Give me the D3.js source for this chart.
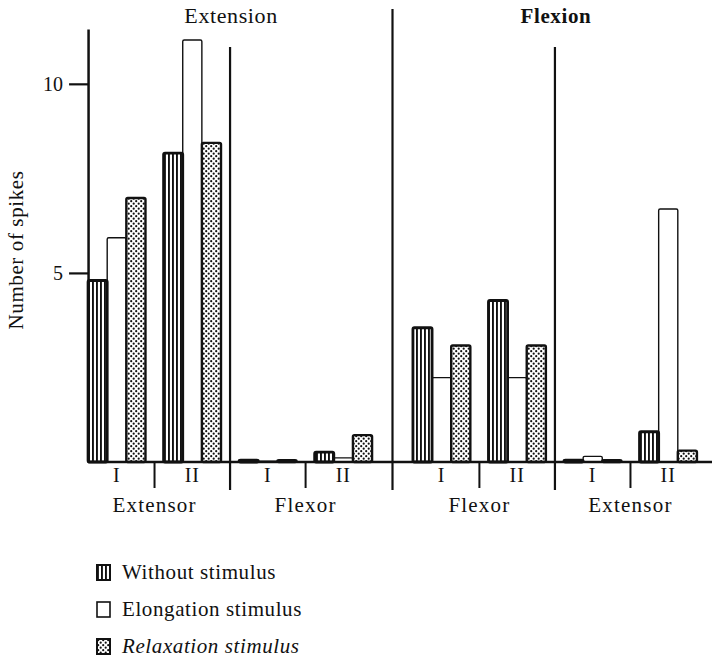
<!DOCTYPE html>
<html>
<head>
<meta charset="utf-8">
<script src="https://cdn.jsdelivr.net/npm/d3@7"></script>
<style>
  body { margin: 0; background: #fff; }
  text { font-family: "Liberation Serif", "DejaVu Serif", serif; fill: #111; }
</style>
</head>
<body>
<script>
// ** Data **
const panels = ["Extension", "Flexion"];
const panelMuscles = [["Extensor", "Flexor"], ["Flexor", "Extensor"]];
const units = ["I", "II"];
const series = ["Without stimulus", "Elongation stimulus", "Relaxation stimulus"];
// order: Extension-Extensor I, II, Extension-Flexor I, II, Flexion-Flexor I, II, Flexion-Extensor I, II
const withoutStim = [4.8, 8.17, 0.05, 0.26, 3.55, 4.27, 0.05, 0.8];
const elongation  = [5.93, 11.16, 0.02, 0.11, 2.23, 2.23, 0.15, 6.69];
const relaxation  = [6.98, 8.44, 0.05, 0.71, 3.08, 3.08, 0.05, 0.3];
const yTicks = [5, 10];

const width = 715, height = 661;
const svg = d3.select("body").append("svg")
    .attr("width", width)
    .attr("height", height);

// ** Patterns **
const defs = svg.append("defs");
const hatch = defs.append("pattern")
    .attr("id", "hatch")
    .attr("patternUnits", "userSpaceOnUse")
    .attr("width", 4).attr("height", 8);
hatch.append("rect").attr("width", 4).attr("height", 8).attr("fill", "#fff");
hatch.append("rect").attr("x", 0).attr("width", 1.9).attr("height", 8).attr("fill", "#111");

const dots = defs.append("pattern")
    .attr("id", "dots")
    .attr("patternUnits", "userSpaceOnUse")
    .attr("width", 5).attr("height", 5);
dots.append("rect").attr("width", 5).attr("height", 5).attr("fill", "#fff");
dots.append("circle").attr("cx", 1.2).attr("cy", 1.2).attr("r", 1.1).attr("fill", "#111");
dots.append("circle").attr("cx", 3.7).attr("cy", 3.7).attr("r", 1.1).attr("fill", "#111");

const fills = ["url(#hatch)", "#fff", "url(#dots)"];
const strokeW = [2.8, 1.4, 2.4];

// ** Scales **
const y = d3.scaleLinear().domain([0, 11.45]).range([462, 29]);
const xPanel = d3.scaleBand().domain(panels).range([79, 706]).paddingInner(0.07);
const xGroup = d3.scaleBand().domain(d3.range(4)).range([0, xPanel.bandwidth()]);
const barSpan = xGroup.bandwidth() * 0.76;
const xBar = d3.scaleBand().domain(series)
    .range([(xGroup.bandwidth() - barSpan) / 2, (xGroup.bandwidth() + barSpan) / 2]);

const groups = [];
panels.forEach((p, pi) => {
    panelMuscles[pi].forEach((m, mi) => {
        units.forEach((u, ui) => {
            const k = pi * 4 + mi * 2 + ui;
            groups.push({
                panel: p, muscle: m, unit: u, slot: mi * 2 + ui,
                values: [withoutStim[k], elongation[k], relaxation[k]]
            });
        });
    });
});

const bars = [];
groups.forEach(g => g.values.forEach((v, si) => bars.push({ g, si, v })));
const barX = d => xPanel(d.g.panel) + xGroup(d.g.slot) + xBar(series[d.si]);

const baseY = y(0);
const axisX = xPanel(panels[0]) + xGroup(0) + xBar(series[0]);
const rightX = xPanel.range()[1] + 6;

// ** Bars (open elongation bars first, patterned on top) **
const order = [1, 0, 2];
svg.append("g").selectAll("rect")
    .data(bars.slice().sort((a, b) => order.indexOf(a.si) - order.indexOf(b.si)))
    .join("rect")
    .attr("x", barX)
    .attr("y", d => y(d.v))
    .attr("width", xBar.bandwidth())
    .attr("height", d => baseY - y(d.v))
    .attr("fill", d => fills[d.si])
    .attr("stroke", "#111")
    .attr("stroke-width", d => strokeW[d.si])
    .attr("rx", 1.5);

// ** Baseline **
svg.append("line")
    .attr("x1", axisX).attr("x2", rightX)
    .attr("y1", baseY).attr("y2", baseY)
    .attr("stroke", "#111").attr("stroke-width", 2.5);

// ** Y axis **
const yAxis = svg.append("g")
    .attr("transform", `translate(${axisX},0)`)
    .call(d3.axisLeft(y).tickValues(yTicks).tickSize(19).tickSizeOuter(0).tickPadding(6));
yAxis.select(".domain").attr("stroke", "#111").attr("stroke-width", 2.5);
yAxis.selectAll(".tick line").attr("stroke", "#111").attr("stroke-width", 2.2);
yAxis.selectAll(".tick text")
    .style("font-family", "'Liberation Serif', serif")
    .style("font-size", "20px")
    .attr("fill", "#111");

svg.append("text")
    .attr("transform", `translate(23,250) rotate(-90)`)
    .attr("text-anchor", "middle")
    .style("font-size", "21px")
    .style("letter-spacing", "0.6px")
    .text("Number of spikes");

// ** Dividers **
const gap = xPanel.step() - xPanel.bandwidth();
const panelDivX = xPanel(panels[1]) - gap / 2;
svg.append("line")
    .attr("x1", panelDivX).attr("x2", panelDivX)
    .attr("y1", 9).attr("y2", 490)
    .attr("stroke", "#111").attr("stroke-width", 2.2);

panels.forEach(p => {
    const mx = xPanel(p) + xGroup(2);
    svg.append("line")
        .attr("x1", mx).attr("x2", mx)
        .attr("y1", 47).attr("y2", 490)
        .attr("stroke", "#111").attr("stroke-width", 2.2);
    [1, 3].forEach(s => {
        const sx = xPanel(p) + xGroup(s);
        svg.append("line")
            .attr("x1", sx).attr("x2", sx)
            .attr("y1", baseY).attr("y2", 488)
            .attr("stroke", "#111").attr("stroke-width", 2);
    });
});

// ** Category labels **
svg.append("g").selectAll("text")
    .data(groups)
    .join("text")
    .attr("x", d => xPanel(d.panel) + xGroup(d.slot) + xGroup.bandwidth() / 2)
    .attr("y", 482)
    .attr("text-anchor", "middle")
    .style("font-size", "20px")
    .style("letter-spacing", "1px")
    .text(d => d.unit);

svg.append("g").selectAll("text")
    .data(groups.filter(d => d.unit === "I"))
    .join("text")
    .attr("x", d => xPanel(d.panel) + xGroup(d.slot) + xGroup.step())
    .attr("y", 512)
    .attr("text-anchor", "middle")
    .style("font-size", "21px")
    .style("letter-spacing", "1.2px")
    .text(d => d.muscle);

// ** Panel titles **
svg.append("g").selectAll("text")
    .data(panels)
    .join("text")
    .attr("x", d => xPanel(d) + xPanel.bandwidth() / 2 + 1)
    .attr("y", 23)
    .attr("text-anchor", "middle")
    .style("font-size", (d, i) => i === 1 ? "21px" : "22px")
    .style("letter-spacing", "0.6px")
    .style("font-weight", (d, i) => i === 1 ? "bold" : "normal")
    .text(d => d);

// ** Legend **
const legend = svg.append("g").selectAll("g")
    .data(series)
    .join("g")
    .attr("transform", (d, i) => `translate(97,${565 + i * 37})`);
legend.append("rect")
    .attr("width", 13).attr("height", 15)
    .attr("fill", (d, i) => fills[i])
    .attr("stroke", "#111")
    .attr("stroke-width", (d, i) => i === 1 ? 1.6 : 2);
legend.append("text")
    .attr("x", 25).attr("y", 14)
    .style("font-size", "21px")
    .style("letter-spacing", "0.6px")
    .style("font-style", (d, i) => i === 2 ? "italic" : "normal")
    .text(d => d);
</script>
</body>
</html>
